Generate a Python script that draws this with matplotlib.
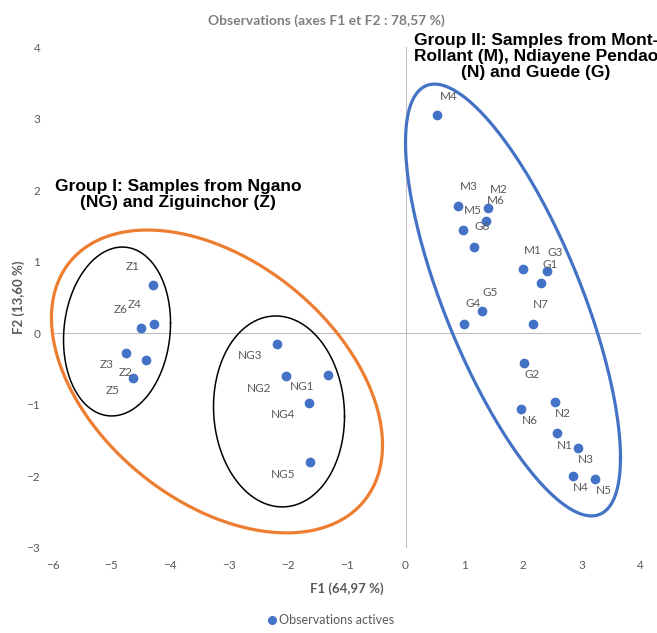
import numpy as np
import matplotlib
matplotlib.use("Agg")
import matplotlib.pyplot as plt
from matplotlib.lines import Line2D

plt.rcParams["font.family"] = ["Lato", "DejaVu Sans"]

# observations (F1, F2)
names = ["Z1", "Z4", "Z6", "Z3", "Z2", "Z5",
         "NG3", "NG2", "NG1", "NG4", "NG5",
         "M4", "M3", "M2", "M6", "M5", "G6", "M1", "G3", "G1", "G5", "G4", "N7",
         "G2", "N6", "N2", "N1", "N3", "N4", "N5"]
f1 = [-4.30, -4.28, -4.50, -4.76, -4.42, -4.63,
      -2.19, -2.03, -1.31, -1.64, -1.62,
      0.54, 0.90, 1.41, 1.37, 0.98, 1.16, 2.00, 2.40, 2.30, 1.30, 0.99, 2.16,
      2.02, 1.97, 2.54, 2.58, 2.93, 2.85, 3.23]
f2 = [0.68, 0.13, 0.07, -0.27, -0.37, -0.62,
      -0.15, -0.60, -0.58, -0.97, -1.80,
      3.05, 1.78, 1.75, 1.57, 1.45, 1.21, 0.90, 0.87, 0.70, 0.31, 0.13, 0.13,
      -0.41, -1.06, -0.96, -1.40, -1.60, -2.00, -2.03]

x_ticks = [-6, -5, -4, -3, -2, -1, 0, 1, 2, 3, 4]
y_ticks = [-3, -2, -1, 0, 1, 2, 3, 4]

title = "Observations (axes F1 et F2 : 78,57 %)"
x_label = "F1 (64,97 %)"
y_label = "F2 (13,60 %)"
legend_label = "Observations actives"
group1_text = "Group I: Samples from Ngano\n(NG) and Ziguinchor (Z)"
group2_text = "Group II: Samples from Mont-\nRollant (M), Ndiayene Pendao\n(N) and Guede (G)"

# label placement (pixels from the point)
label_offsets = [(-20, 18), (-19, 19), (-20, 19), (-19, -12), (-20, -13), (-21, -13),
                 (-27, -11), (-27, -12), (-26, -12), (-26, -12), (-27, -12),
                 (11, 19), (10, 19), (10, 19), (10, 20), (10, 19), (8, 20), (10, 18),
                 (9, 19), (9, 19), (8, 19), (9, 20), (8, 19),
                 (8, -12), (9, -11), (8, -12), (8, -12), (8, -12), (8, -11), (8, -12)]

BLUE = "#4472C4"
ORANGE = "#ED7D31"
GREY = "#595959"


def draw_ellipse(ax, cx, cy, w, h, s, color, lw):
    """Ellipse given by centre, half extents and a shear term s."""
    t = np.linspace(0, 2 * np.pi, 400)
    phi = np.arcsin(s)
    ax.plot(cx + w * np.cos(t), cy + h * np.sin(t + phi),
            color=color, lw=lw, clip_on=False, zorder=2)


fig = plt.figure(figsize=(6.57, 6.33), dpi=100)
ax = fig.add_axes([0.0802, 0.1343, 0.8950, 0.7914])

ax.set_xlim(-6, 4)
ax.set_ylim(-3, 4)
ax.set_xticks(x_ticks)
ax.set_yticks(y_ticks)
for spine in ax.spines.values():
    spine.set_visible(False)
ax.tick_params(length=0, labelsize=8.5, labelcolor=GREY, pad=9)

ax.axhline(0, color="#bfbfbf", lw=0.8, zorder=1)
ax.axvline(0, color="#bfbfbf", lw=0.8, zorder=1)

draw_ellipse(ax, -3.206, -0.673, 2.815, 2.116, -0.42, ORANGE, 2.3)
draw_ellipse(ax, -4.906, 0.025, 0.91, 1.18, 0.10, "black", 1.1)
draw_ellipse(ax, -2.151, -1.092, 1.114, 1.334, -0.05, "black", 1.1)
draw_ellipse(ax, 1.828, 0.465, 1.828, 3.017, -0.73, BLUE, 2.3)

ax.scatter(f1, f2, s=36, color=BLUE, zorder=3)

for name, x, y, off in zip(names, f1, f2, label_offsets):
    ax.annotate(name, (x, y), xytext=off, textcoords="offset pixels",
                ha="center", va="center", fontsize=8.5, color=GREY)

ax.set_xlabel(x_label, fontsize=9.5, color=GREY, fontweight="bold", labelpad=8)
ax.set_ylabel(y_label, fontsize=9.5, color=GREY, fontweight="bold", labelpad=1)

fig.text(326 / 657, 1 - 21 / 633, title, ha="center", va="center",
         fontsize=10, color="#7f7f7f", fontweight="bold")

fig.text(178 / 657, 1 - 194.5 / 633, group1_text, ha="center", va="center",
         family="Liberation Sans", fontweight="bold", fontsize=12.5, linespacing=1.05)
fig.text(536 / 657, 1 - 56.5 / 633, group2_text, ha="center", va="center",
         family="Liberation Sans", fontweight="bold", fontsize=12.5, linespacing=1.05)

handle = Line2D([], [], ls="", marker="o", markersize=5.5, color=BLUE)
fig.legend([handle], [legend_label], loc="center", bbox_to_anchor=(330 / 657, 1 - 620 / 633),
           frameon=False, fontsize=9, labelcolor=GREY, handletextpad=0.1, handlelength=1)

fig.savefig("out.png", dpi=100)
